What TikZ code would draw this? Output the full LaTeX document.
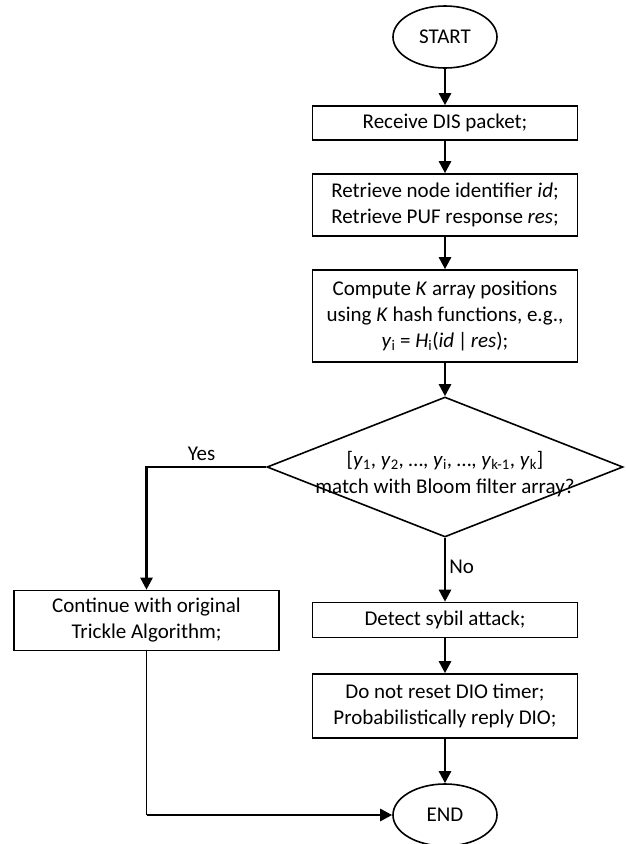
\documentclass[tikz,border=0pt]{standalone}
\usepackage{fontspec}
\setmainfont{Carlito}
\usetikzlibrary{shapes.geometric,arrows.meta}
\begin{document}
\begin{tikzpicture}[x=1pt,y=-1pt,
  font=\fontsize{21}{26}\selectfont,
  box/.style={draw, line width=1.6pt, rectangle, minimum width=265pt, inner sep=0pt, align=center},
  term/.style={draw, line width=1.6pt, ellipse, minimum width=104pt, minimum height=62pt, inner sep=0pt},
  flow/.style={line width=2.6pt, -{Triangle[length=12pt,width=12pt]}},
  thinflow/.style={line width=1.8pt},
  lbl/.style={inner sep=0pt}
]
\useasboundingbox (0,0) rectangle (625,844);
\node[term] (start) at (445,37) {START};
\node[box, minimum height=34pt] (recv) at (445,123) {Receive DIS packet;};
\node[box, minimum height=62pt] (retr) at (445,205) {Retrieve node identifier \textit{id};\\Retrieve PUF response \textit{res};};
\node[box, minimum height=92pt] (comp) at (445,316) {Compute \textit{K} array positions\\using \textit{K} hash functions, e.g.,\\\textit{y}\textsubscript{i} = \textit{H}\textsubscript{i}(\textit{id}\,|\,\textit{res});};
\node[draw, line width=1.6pt, diamond, aspect=2.54, minimum width=356pt, minimum height=140pt, inner sep=0pt] (dec) at (445,467) {};
\node[lbl, align=center, font=\fontsize{21}{27}\selectfont] (dect) at (445,474) {[\textit{y}\textsubscript{1}, \textit{y}\textsubscript{2}, …, \textit{y}\textsubscript{i}, …, \textit{y}\textsubscript{k-1}, \textit{y}\textsubscript{k}]\\match with Bloom filter array?};
\node[box, minimum height=60pt] (cont) at (146.5,620.5) {Continue with original\\Trickle Algorithm;};
\node[box, minimum height=35pt] (det) at (445,620) {Detect sybil attack;};
\node[box, minimum height=64pt] (dio) at (445,706) {Do not reset DIO timer;\\Probabilistically reply DIO;};
\node[term] (end) at (445,815) {END};
\coordinate (corner) at (cont.south |- end.west);

\draw[flow] (start) -- (recv);
\draw[flow] (recv) -- (retr);
\draw[flow] (retr) -- (comp);
\draw[flow] (comp) -- (dec.north);
\draw[flow] (dec.west) -| node[lbl, pos=0.27, above=5pt] (yes) {Yes} (cont.north);
\draw[flow] (dec.south) -- node[lbl, right=3pt, pos=0.45] (no) {No} (det.north);
\draw[flow] (det) -- (dio);
\draw[flow] (dio) -- (end);
\draw[thinflow] (cont.south) -- (corner);
\draw[flow] (corner) -- (end.west);
\end{tikzpicture}
\end{document}
